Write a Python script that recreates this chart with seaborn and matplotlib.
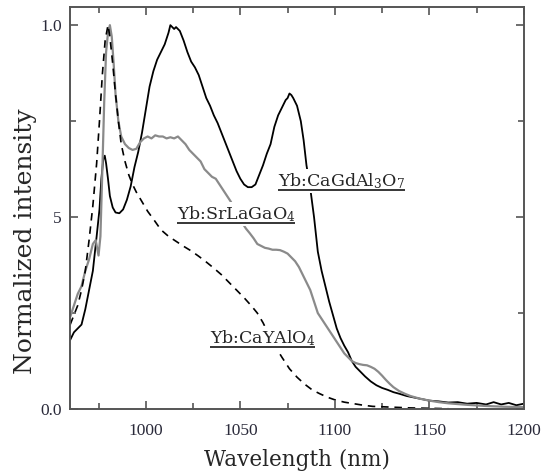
import matplotlib
matplotlib.use("Agg")
import matplotlib.pyplot as plt
import seaborn as sns
import numpy as np
import pandas as pd
from matplotlib.ticker import FixedLocator, FixedFormatter, MultipleLocator

# ---------------- data ----------------
cagd_x = [960, 962, 964, 966, 968, 970, 972, 974, 975.5, 976.5, 977.5, 978.3, 979, 980, 981,
          982.5, 984, 986, 988, 990, 992, 994, 996, 998, 1000, 1002, 1004, 1006, 1008, 1010,
          1012, 1013, 1014, 1015, 1016, 1017, 1018, 1020, 1022, 1024, 1026, 1028, 1030, 1032,
          1034, 1036, 1038, 1040, 1042, 1044, 1046, 1048, 1050, 1052, 1054, 1056, 1058, 1060,
          1062, 1064, 1066, 1068, 1070, 1072, 1074, 1075, 1076, 1077, 1078, 1080, 1082, 1083.5,
          1085, 1087, 1089, 1091, 1093, 1095, 1097, 1099, 1101, 1103, 1105, 1107, 1109, 1111,
          1113, 1116, 1119, 1122, 1125, 1128, 1131, 1134, 1138, 1142, 1146, 1150, 1155, 1160,
          1165, 1170, 1175, 1180, 1184, 1188, 1192, 1196, 1200]
cagd_y = [0.18, 0.20, 0.21, 0.22, 0.26, 0.31, 0.36, 0.45, 0.52, 0.60, 0.65, 0.66, 0.64, 0.60, 0.555,
          0.525, 0.512, 0.51, 0.52, 0.545, 0.58, 0.63, 0.67, 0.72, 0.78, 0.84, 0.88, 0.91, 0.93, 0.95,
          0.98, 1.0, 0.995, 0.99, 0.995, 0.99, 0.985, 0.96, 0.93, 0.905, 0.89, 0.87, 0.84, 0.81,
          0.79, 0.765, 0.745, 0.72, 0.695, 0.67, 0.645, 0.62, 0.60, 0.585, 0.578, 0.578, 0.585, 0.61,
          0.635, 0.665, 0.69, 0.735, 0.765, 0.785, 0.805, 0.81, 0.822, 0.818, 0.81, 0.79, 0.75, 0.70,
          0.635, 0.575, 0.50, 0.41, 0.36, 0.32, 0.28, 0.245, 0.21, 0.185, 0.165, 0.148, 0.125, 0.11,
          0.10, 0.085, 0.072, 0.062, 0.055, 0.05, 0.044, 0.04, 0.034, 0.03, 0.026, 0.022, 0.02, 0.017,
          0.018, 0.014, 0.016, 0.012, 0.018, 0.012, 0.016, 0.01, 0.014]

srla_x = [960, 962, 964, 966, 968, 970, 972, 973.5, 975, 976, 977, 978, 979, 980, 981, 982, 983,
          984, 985.5, 987, 989, 991, 993, 995, 997, 999, 1001, 1003, 1005, 1007, 1009, 1011, 1013,
          1015, 1017, 1019, 1021, 1023, 1025, 1027, 1029, 1031, 1033, 1035, 1037, 1039, 1041, 1043,
          1045, 1047, 1049, 1051, 1053, 1055, 1057, 1059, 1061, 1063, 1065, 1067, 1069, 1071, 1073,
          1075, 1077, 1079, 1081, 1083, 1085, 1087, 1089, 1091, 1093, 1095, 1097, 1099, 1101, 1103,
          1105, 1107, 1109, 1111, 1113, 1115, 1117, 1119, 1121, 1123, 1125, 1127, 1129, 1131, 1134,
          1137, 1140, 1145, 1150, 1155, 1160, 1170, 1180, 1190, 1200]
srla_y = [0.24, 0.27, 0.30, 0.32, 0.36, 0.39, 0.43, 0.44, 0.40, 0.45, 0.62, 0.80, 0.93, 0.98, 1.0,
          0.97, 0.90, 0.82, 0.75, 0.71, 0.69, 0.68, 0.675, 0.678, 0.695, 0.705, 0.71, 0.705, 0.713,
          0.71, 0.71, 0.705, 0.708, 0.705, 0.71, 0.70, 0.69, 0.675, 0.665, 0.655, 0.645, 0.625, 0.615,
          0.605, 0.60, 0.585, 0.57, 0.555, 0.54, 0.52, 0.50, 0.485, 0.47, 0.458, 0.445, 0.43, 0.425,
          0.42, 0.418, 0.415, 0.415, 0.414, 0.41, 0.405, 0.395, 0.385, 0.37, 0.35, 0.33, 0.31, 0.28,
          0.25, 0.235, 0.22, 0.205, 0.19, 0.175, 0.16, 0.145, 0.135, 0.125, 0.12, 0.117, 0.115,
          0.114, 0.11, 0.105, 0.097, 0.087, 0.076, 0.066, 0.057, 0.047, 0.04, 0.034, 0.027, 0.022,
          0.018, 0.015, 0.011, 0.008, 0.006, 0.005]

caya_x = [960, 962, 964, 966, 968, 970, 972, 974, 975.5, 977, 978.5, 980, 981, 982.5, 984, 985.5,
          987, 989, 991, 993, 995, 998, 1001, 1004, 1008, 1012, 1016, 1020, 1024, 1028, 1032, 1036,
          1040, 1044, 1048, 1052, 1056, 1059, 1062, 1065, 1068, 1072, 1076, 1080, 1084, 1088, 1092,
          1096, 1100, 1105, 1110, 1115, 1120, 1130, 1140, 1150, 1160]
caya_y = [0.22, 0.245, 0.27, 0.31, 0.36, 0.44, 0.53, 0.64, 0.75, 0.87, 0.96, 1.0, 0.97, 0.90, 0.82,
          0.75, 0.69, 0.645, 0.61, 0.585, 0.565, 0.54, 0.515, 0.495, 0.467, 0.45, 0.437, 0.424, 0.412,
          0.398, 0.383, 0.367, 0.35, 0.33, 0.31, 0.29, 0.268, 0.25, 0.225, 0.195, 0.167, 0.135, 0.105,
          0.083, 0.065, 0.05, 0.04, 0.031, 0.024, 0.018, 0.014, 0.01, 0.007, 0.005, 0.003, 0.002, 0.001]

x_ticks = [1000, 1050, 1100, 1150, 1200]
y_ticks = [0.0, 0.5, 1.0]
y_tick_labels = ["0.0", "5", "1.0"]

labels = ["Yb:CaGdAl$_3$O$_7$", "Yb:SrLaGaO$_4$", "Yb:CaYAlO$_4$"]

# ---------------- plot ----------------
sns.set_theme(style="ticks")
plt.rcParams["font.family"] = ["DejaVu Serif", "DejaVu Sans"]
plt.rcParams["mathtext.fontset"] = "dejavuserif"

fig = plt.figure(figsize=(5.44, 4.74), dpi=100)
ax = fig.add_axes([0.129, 0.137, 0.834, 0.848])

sns.lineplot(x=cagd_x, y=cagd_y, ax=ax, color="black", lw=1.3, sort=False, estimator=None)
sns.lineplot(x=srla_x, y=srla_y, ax=ax, color="#8a8a8a", lw=1.6, sort=False, estimator=None)
sns.lineplot(x=caya_x, y=caya_y, ax=ax, color="black", lw=1.2, sort=False, estimator=None,
             linestyle=(0, (4.5, 3.5)))

ax.set_xlim(960, 1200)
ax.set_ylim(0, 1.047)

ax.xaxis.set_major_locator(FixedLocator(x_ticks))
ax.xaxis.set_minor_locator(MultipleLocator(25))
ax.yaxis.set_major_locator(FixedLocator(y_ticks))
ax.yaxis.set_major_formatter(FixedFormatter(y_tick_labels))
ax.yaxis.set_minor_locator(MultipleLocator(0.25))

spine_c = "#555555"
for s in ax.spines.values():
    s.set_visible(True)
    s.set_color(spine_c)
    s.set_linewidth(1.4)

ax.tick_params(which="both", direction="in", top=True, right=True, color=spine_c, width=1.2)
ax.tick_params(which="major", length=6)
ax.tick_params(which="minor", length=4)
for lab in ax.get_xticklabels() + ax.get_yticklabels():
    lab.set_fontfamily("Liberation Serif")
    lab.set_fontsize(12.5)
    lab.set_color("#2a2a3a")
ax.tick_params(axis="x", pad=10)
ax.tick_params(axis="y", pad=6)

ax.set_xlabel("Wavelength (nm)", fontsize=15.5, labelpad=7)
ax.set_ylabel("Normalized intensity", fontsize=18)
ax.yaxis.set_label_coords(-0.074, 0.418)

text_pos = [(1070, 0.594), (1016.5, 0.508), (1034, 0.185)]
texts = []
for lbl, (tx, ty) in zip(labels, text_pos):
    t = ax.text(tx, ty, lbl, fontsize=12.5, ha="left", va="center", zorder=5,
                bbox=dict(facecolor="white", edgecolor="none", pad=1.5))
    texts.append(t)

fig.canvas.draw()
renderer = fig.canvas.get_renderer()
inv = ax.transAxes.inverted()
for t in texts:
    bb = t.get_window_extent(renderer)
    (x0, y0), (x1, y1) = inv.transform([[bb.x0, bb.y0], [bb.x1, bb.y1]])
    ax.plot([x0, x1], [y0 + 0.002, y0 + 0.002], transform=ax.transAxes, color="black",
            lw=1.1, zorder=6, solid_capstyle="butt")

fig.savefig("out.png", dpi=100)
